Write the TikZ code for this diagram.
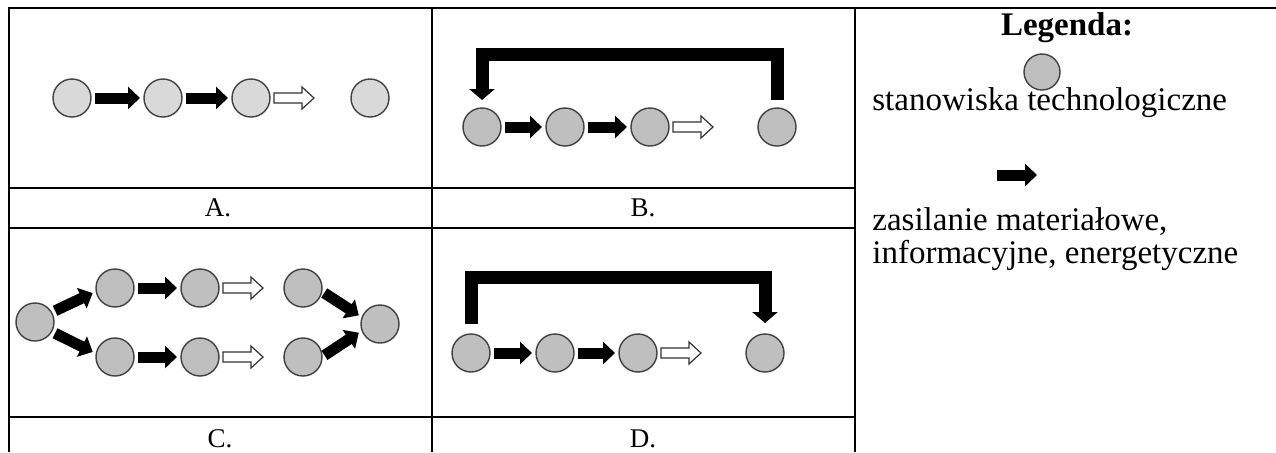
\documentclass[tikz,border=0pt]{standalone}
\usepackage{fontspec}
\setmainfont{Liberation Serif}
\usetikzlibrary{arrows.meta}

\begin{document}
\begin{tikzpicture}[x=0.5pt, y=-0.5pt,
  stanowisko/.style={draw=black!75, line width=0.7pt, circle, minimum size=19pt, inner sep=0pt, outer sep=0pt},
  flow/.style={line width=5.5pt, -{Triangle[length=6pt, width=11pt]}, shorten <=2pt, shorten >=2pt},
  hollow/.style={draw=black!80, line width=0.6pt, fill=white},
  feedback/.style={line width=6.5pt, -{Triangle[length=5.5pt, width=12.5pt]}},
  ramka/.style={line width=0.7pt},
  podpis/.style={anchor=base, inner sep=0pt, font=\fontsize{13.5pt}{13.5pt}\selectfont},
  legenda/.style={anchor=base west, inner sep=0pt, font=\fontsize{16.5pt}{16.5pt}\selectfont}]
\useasboundingbox (0,0) rectangle (1276,452);
\newcommand\openarrow[1]{
\draw[hollow] ([xshift=2pt]#1.east) ++(0,5) -- ++(28,0) -- ++(0,6) -- ++(12,-11)
  -- ++(-12,-11) -- ++(0,6) -- ++(-28,0) -- cycle;
}
\newcommand\linia[7]{
\node[stanowisko, fill=#2] (#11) at (#3,#7) {};
\node[stanowisko, fill=#2] (#12) at (#4,#7) {};
\node[stanowisko, fill=#2] (#13) at (#5,#7) {};
\node[stanowisko, fill=#2] (#14) at (#6,#7) {};
\draw[flow] (#11) -- (#12);
\draw[flow] (#12) -- (#13);
\openarrow{#13}
}
% tabela
\draw[ramka] (8,8) -- (1276,8);
\draw[line width=1.2pt] (9,8) -- (9,452);
\draw[ramka] (432,8) -- (432,452);
\draw[ramka] (855,8) -- (855,452);
\draw[line width=1.3pt] (9,188) -- (855,188);
\draw[ramka] (9,228) -- (855,228);
\draw[ramka] (9,417) -- (855,417);
% A
\linia{a}{black!15}{72}{163}{251}{370}{98}
\node[podpis] (la) at (218,216) {A.};
% B
\linia{b}{black!25}{482}{565}{650}{777}{127}
\draw[feedback, shorten <=4pt, shorten >=4pt] (b4.north) -- ++(0,-54) -| (b1.north);
\node[podpis] (lb) at (643,216) {B.};
% C
\node[stanowisko, fill=black!25] (c1) at (35,322) {};
\node[stanowisko, fill=black!25] (c2) at (115,288) {};
\node[stanowisko, fill=black!25] (c3) at (200,288) {};
\node[stanowisko, fill=black!25] (c4) at (303,288) {};
\node[stanowisko, fill=black!25] (c5) at (115,357) {};
\node[stanowisko, fill=black!25] (c6) at (200,357) {};
\node[stanowisko, fill=black!25] (c7) at (303,357) {};
\node[stanowisko, fill=black!25] (c8) at (380,324) {};
\draw[flow] (c1.30) -- (c2.190);
\draw[flow] (c1.-30) -- (c5.170);
\draw[flow] (c2) -- (c3);
\draw[flow] (c5) -- (c6);
\openarrow{c3}
\openarrow{c6}
\draw[flow, shorten <=1.5pt] (c4.-10) -- (c8.160);
\draw[flow, shorten <=1.5pt] (c7.east) -- (c8.200);
\node[podpis] (lc) at (220,447) {C.};
% D
\linia{d}{black!25}{471}{555}{638}{765}{353}
\draw[feedback, shorten <=5pt, shorten >=5.5pt] (d1.north) -- ++(0,-57) -| (d4.north);
\node[podpis] (ld) at (643,447) {D.};
% legenda
\node[anchor=base, inner sep=0pt, font=\bfseries\fontsize{16.5pt}{16.5pt}\selectfont] (leg) at (1067,35) {Legenda:};
\node[stanowisko, fill=black!25, minimum size=18pt] (lk) at (1042,72) {};
\node[legenda] (lt1) at (872,110) {stanowiska technologiczne};
\coordinate (ls) at (997,175);
\coordinate (le) at (1037,175);
\draw[flow, shorten <=0pt, shorten >=0pt] (ls) -- (le);
\node[legenda] (lt2) at (872,230) {zasilanie materiałowe,};
\node[legenda] (lt3) at (872,263) {informacyjne, energetyczne};
\end{tikzpicture}
\end{document}
